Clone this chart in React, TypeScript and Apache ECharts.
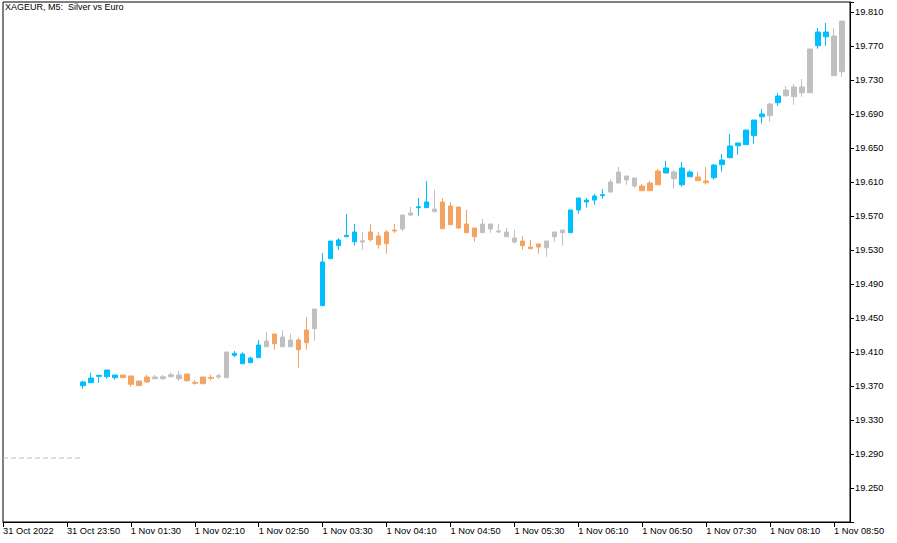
import React, { useEffect, useRef } from 'react';
import * as echarts from 'echarts';

const TITLE = 'XAGEUR, M5:  Silver vs Euro';

// Leading (empty) slots of the time axis, then one slot per M5 candle
const LEAD_LABELS = [
  '31 Oct 2022', '31 Oct 23:15', '31 Oct 23:20', '31 Oct 23:25', '31 Oct 23:30',
  '31 Oct 23:35', '31 Oct 23:40', '31 Oct 23:45', '31 Oct 23:50', '31 Oct 23:55',
];
const CANDLE_DAY = '1 Nov';
const FIRST_CANDLE_MINUTES = 60; // 01:00
const TRAILING_SLOTS = 1;
const LABEL_EVERY = 8;

const OPENS = [
  19.3704, 19.3739, 19.3814, 19.3809, 19.3798, 19.3829, 19.3818, 19.3759, 19.3806, 19.3786,
  19.3786, 19.3809, 19.3829, 19.3841, 19.3743, 19.3806, 19.3802, 19.3806, 19.3798, 19.4061,
  19.3962, 19.3974, 19.4033, 19.4162, 19.4312, 19.4162, 19.4241, 19.4241, 19.4359, 19.4374,
  19.4645, 19.5198, 19.5351, 19.5456, 19.5398, 19.5409, 19.5512, 19.5465, 19.5512, 19.5535,
  19.5547, 19.5712, 19.5798, 19.5798, 19.5782, 19.5865, 19.5818, 19.5806, 19.5606, 19.5559,
  19.5504, 19.5606, 19.5524, 19.5512, 19.5441, 19.5406, 19.5335, 19.5371, 19.5327, 19.5456,
  19.5504, 19.5504, 19.5771, 19.5865, 19.5888, 19.5939, 19.5982, 19.6088, 19.6171, 19.6147,
  19.6053, 19.5998, 19.6068, 19.6206, 19.6218, 19.6068, 19.6162, 19.6159, 19.6112, 19.6151,
  19.6304, 19.6386, 19.6527, 19.6539, 19.6645, 19.6868, 19.6880, 19.7033, 19.7115, 19.7218,
  19.7151, 19.7151, 19.7704, 19.7809, 19.7818, 19.7398,
];
const CLOSES = [
  19.3747, 19.3794, 19.3826, 19.3888, 19.3829, 19.3798, 19.3720, 19.3704, 19.3747, 19.3806,
  19.3809, 19.3833, 19.3786, 19.3762, 19.3732, 19.3727, 19.3791, 19.3821, 19.4100, 19.4085,
  19.4076, 19.4029, 19.4182, 19.4229, 19.4198, 19.4276, 19.4162, 19.4127, 19.4209, 19.4606,
  19.5159, 19.5406, 19.5418, 19.5473, 19.5512, 19.5394, 19.5421, 19.5362, 19.5374, 19.5524,
  19.5712, 19.5735, 19.5809, 19.5865, 19.5751, 19.5551, 19.5598, 19.5559, 19.5504, 19.5456,
  19.5606, 19.5547, 19.5512, 19.5456, 19.5394, 19.5351, 19.5315, 19.5335, 19.5406, 19.5512,
  19.5535, 19.5771, 19.5912, 19.5888, 19.5935, 19.5951, 19.6100, 19.6218, 19.6124, 19.6053,
  19.5998, 19.6088, 19.6229, 19.6265, 19.6139, 19.6265, 19.6218, 19.6115, 19.6092, 19.6300,
  19.6359, 19.6524, 19.6559, 19.6712, 19.6829, 19.6900, 19.7018, 19.7112, 19.7182, 19.7104,
  19.7218, 19.7665, 19.7865, 19.7865, 19.7351, 19.7994,
];
const LOWS = [
  19.3668, 19.3739, 19.3739, 19.3786, 19.3774, 19.3798, 19.3692, 19.3704, 19.3739, 19.3782,
  19.3774, 19.3809, 19.3762, 19.3751, 19.3715, 19.3720, 19.3762, 19.3779, 19.3798, 19.4038,
  19.3962, 19.3974, 19.4033, 19.4162, 19.4127, 19.4162, 19.4162, 19.3915, 19.4127, 19.4233,
  19.4645, 19.5198, 19.5304, 19.5456, 19.5351, 19.5304, 19.5398, 19.5315, 19.5256, 19.5500,
  19.5524, 19.5700, 19.5704, 19.5798, 19.5751, 19.5551, 19.5598, 19.5547, 19.5504, 19.5398,
  19.5504, 19.5504, 19.5500, 19.5456, 19.5374, 19.5304, 19.5315, 19.5256, 19.5221, 19.5398,
  19.5351, 19.5504, 19.5727, 19.5798, 19.5833, 19.5904, 19.5982, 19.6088, 19.6068, 19.6033,
  19.5998, 19.5998, 19.6068, 19.6206, 19.6021, 19.6045, 19.6162, 19.6115, 19.6068, 19.6127,
  19.6221, 19.6386, 19.6421, 19.6539, 19.6551, 19.6786, 19.6809, 19.6998, 19.7104, 19.7009,
  19.7104, 19.7151, 19.7668, 19.7704, 19.7351, 19.7339,
];
const HIGHS = [
  19.3762, 19.3856, 19.3833, 19.3888, 19.3829, 19.3829, 19.3818, 19.3759, 19.3833, 19.3829,
  19.3829, 19.3861, 19.3876, 19.3841, 19.3771, 19.3806, 19.3833, 19.3845, 19.4100, 19.4112,
  19.4096, 19.4045, 19.4241, 19.4335, 19.4312, 19.4359, 19.4312, 19.4265, 19.4512, 19.4606,
  19.5265, 19.5406, 19.5441, 19.5724, 19.5606, 19.5512, 19.5606, 19.5512, 19.5535, 19.5606,
  19.5712, 19.5806, 19.5912, 19.6112, 19.6006, 19.5912, 19.5865, 19.5806, 19.5771, 19.5559,
  19.5665, 19.5606, 19.5606, 19.5559, 19.5535, 19.5465, 19.5418, 19.5371, 19.5406, 19.5512,
  19.5535, 19.5771, 19.5912, 19.5912, 19.5959, 19.6018, 19.6135, 19.6276, 19.6171, 19.6147,
  19.6076, 19.6112, 19.6253, 19.6347, 19.6241, 19.6335, 19.6241, 19.6218, 19.6276, 19.6312,
  19.6429, 19.6665, 19.6559, 19.6712, 19.6829, 19.6959, 19.7033, 19.7147, 19.7229, 19.7253,
  19.7312, 19.7665, 19.7912, 19.7971, 19.7912, 19.7994,
];
// b = blue, o = orange, g = grey candle
const KINDS = (
  'bbbbb' + 'oooo' + 'gggg' + 'oooo' + 'gg' + 'bbbb' + 'g' + 'o' + 'gg' + 'oo' + 'g' +
  'bbbbb' + 'g' + 'oooo' + 'gg' + 'bb' + 'g' + 'ooooo' + 'ggggg' + 'ooo' + 'ggg' +
  'bbbbb' + 'gggg' + 'ooo' + 'b' + 'g' + 'bb' + 'oo' + 'bbbbbbb' + 'g' + 'b' + 'gggg' + 'bb' + 'gg'
).split('');
const KIND_COLORS: Record<string, string> = { b: '#00BFFF', o: '#F4A460', g: '#C0C0C0' };

const PREV_LEVEL = 19.2853;
const PREV_LEVEL_FROM = 0;
const PREV_LEVEL_TO = 9.5;

const Y_MIN = 19.21;
const Y_MAX = 19.8218;
const Y_STEP = 0.04;
const Y_FIRST_LABEL = 19.25;
const Y_LAST_LABEL = 19.81;

const FONT = 'Liberation Sans';

function pad(n: number) {
  return n < 10 ? '0' + n : String(n);
}

function buildCategories(): string[] {
  const cats = [...LEAD_LABELS];
  const total = OPENS.length + TRAILING_SLOTS;
  for (let i = 0; i < total; i++) {
    const m = FIRST_CANDLE_MINUTES + i * 5;
    cats.push(`${CANDLE_DAY} ${pad(Math.floor(m / 60))}:${pad(m % 60)}`);
  }
  return cats;
}

export default function App() {
  const ref = useRef<HTMLDivElement>(null);

  useEffect(() => {
    if (!ref.current) return;
    const chart = echarts.init(ref.current, undefined, { renderer: 'svg' });
    const categories = buildCategories();
    const offset = LEAD_LABELS.length;

    const candles = OPENS.map((o, i) => {
      const c = KIND_COLORS[KINDS[i]];
      return {
        value: [offset + i, o, CLOSES[i], LOWS[i], HIGHS[i]],
        itemStyle: { color: c, color0: c, borderColor: c, borderColor0: c, borderWidth: 1 },
      };
    });

    const showLabel = (i: number) => i % LABEL_EVERY === 0;

    chart.setOption({
      animation: false,
      backgroundColor: '#ffffff',
      title: {
        text: TITLE,
        left: 5,
        top: 2,
        padding: 0,
        textStyle: { fontSize: 9, fontWeight: 'normal', color: '#000', fontFamily: FONT },
      },
      grid: {
        left: 2,
        right: 47,
        top: 2,
        bottom: 21,
        show: true,
        borderColor: '#000',
        borderWidth: 1,
        backgroundColor: '#ffffff',
      },
      xAxis: {
        type: 'category',
        data: categories,
        boundaryGap: false,
        axisLine: { show: true, lineStyle: { color: '#000', width: 1 } },
        axisTick: { show: true, interval: showLabel, length: 5, lineStyle: { color: '#000' } },
        axisLabel: {
          interval: showLabel,
          align: 'left',
          margin: 4,
          padding: [0, 0, 0, 0],
          color: '#000',
          fontSize: 9.3,
          fontFamily: FONT,
        },
        splitLine: { show: false },
      },
      yAxis: {
        type: 'value',
        position: 'right',
        min: Y_MIN,
        max: Y_MAX,
        interval: Y_STEP,
        axisLine: { show: true, lineStyle: { color: '#000' } },
        axisTick: { show: true, length: 4, lineStyle: { color: '#000' } },
        axisLabel: {
          margin: 5,
          color: '#000',
          fontSize: 9.3,
          fontFamily: FONT,
          formatter: (v: number) =>
            v < Y_FIRST_LABEL - 0.001 || v > Y_LAST_LABEL + 0.001 ? '' : v.toFixed(3),
        },
        splitLine: { show: false },
      },
      series: [
        {
          type: 'line',
          data: [
            [PREV_LEVEL_FROM, PREV_LEVEL],
            [PREV_LEVEL_TO, PREV_LEVEL],
          ],
          symbol: 'none',
          silent: true,
          lineStyle: { color: '#C0C0C0', width: 1, type: [5, 3] },
        },
        {
          type: 'candlestick',
          barWidth: 5,
          encode: { x: 0, y: [1, 2, 3, 4] },
          data: candles,
        },
      ],
    });

    return () => chart.dispose();
  }, []);

  return (
    <div
      ref={ref}
      style={{ position: 'absolute', left: 0, top: 0, width: 897, height: 543, background: '#fff' }}
    />
  );
}
